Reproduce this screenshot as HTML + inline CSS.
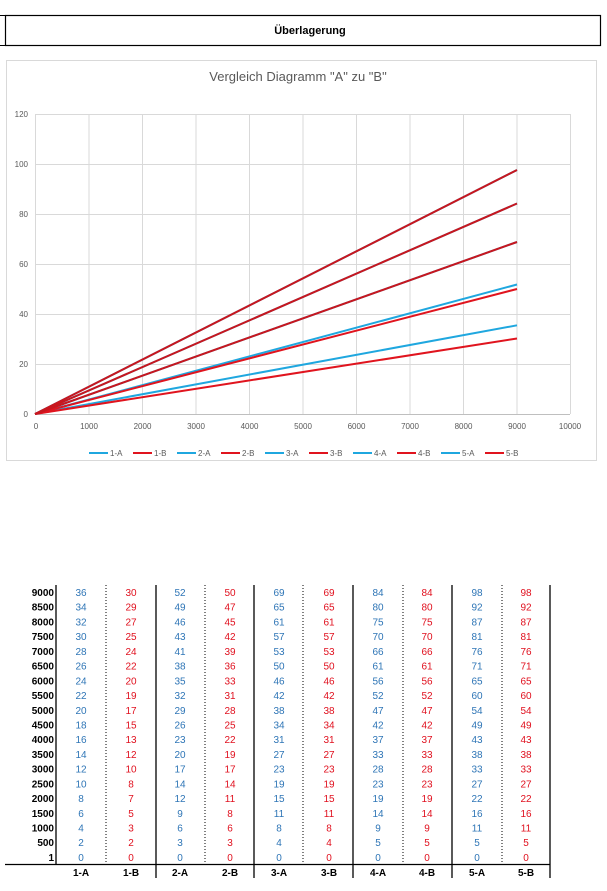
<!DOCTYPE html>
<html><head><meta charset="utf-8"><style>
html,body{margin:0;padding:0;background:#fff;width:607px;height:891px;overflow:hidden}
svg{display:block;font-family:"Liberation Sans",sans-serif}
.ax{font-size:8px;fill:#595959}
.lg{font-size:8px;fill:#595959}
.tl{font-size:10px;font-weight:bold;fill:#000}
.a{font-size:10px;fill:#2e75b6;text-anchor:middle}
.b{font-size:10px;fill:#e0101e;text-anchor:middle}
</style></head><body>
<svg width="607" height="891" viewBox="0 0 607 891">
<!-- header -->
<rect x="5.5" y="15.5" width="595" height="30" fill="none" stroke="#000" stroke-width="1.2"/>
<line x1="0" y1="15.5" x2="5" y2="15.5" stroke="#000"/>
<line x1="0" y1="45.5" x2="5" y2="45.5" stroke="#000"/>
<text x="310" y="34" font-size="11" font-weight="bold" text-anchor="middle">Überlagerung</text>
<!-- chart box -->
<rect x="6.5" y="60.5" width="590" height="400" fill="#fff" stroke="#d9d9d9"/>
<text x="298" y="81" font-size="13" fill="#595959" text-anchor="middle">Vergleich Diagramm "A" zu "B"</text>
<g stroke="#d9d9d9" stroke-width="1">
<line x1="35" y1="114.5" x2="570" y2="114.5"/><line x1="35" y1="164.5" x2="570" y2="164.5"/>
<line x1="35" y1="214.5" x2="570" y2="214.5"/><line x1="35" y1="264.5" x2="570" y2="264.5"/>
<line x1="35" y1="314.5" x2="570" y2="314.5"/><line x1="35" y1="364.5" x2="570" y2="364.5"/>
<line x1="35.5" y1="114" x2="35.5" y2="414"/><line x1="89" y1="114" x2="89" y2="414"/>
<line x1="142.5" y1="114" x2="142.5" y2="414"/><line x1="196" y1="114" x2="196" y2="414"/>
<line x1="249.5" y1="114" x2="249.5" y2="414"/><line x1="303" y1="114" x2="303" y2="414"/>
<line x1="356.5" y1="114" x2="356.5" y2="414"/><line x1="410" y1="114" x2="410" y2="414"/>
<line x1="463.5" y1="114" x2="463.5" y2="414"/><line x1="517" y1="114" x2="517" y2="414"/>
<line x1="570.5" y1="114" x2="570.5" y2="414"/>
</g>
<line x1="35" y1="414.5" x2="570" y2="414.5" stroke="#bfbfbf"/>
<g class="ax" text-anchor="end">
<text x="28" y="117">120</text><text x="28" y="167">100</text><text x="28" y="217">80</text>
<text x="28" y="267">60</text><text x="28" y="317">40</text><text x="28" y="367">20</text><text x="28" y="417">0</text>
</g>
<g class="ax" text-anchor="middle">
<text x="36" y="429">0</text><text x="89" y="429">1000</text><text x="142.5" y="429">2000</text>
<text x="196" y="429">3000</text><text x="249.5" y="429">4000</text><text x="303" y="429">5000</text>
<text x="356.5" y="429">6000</text><text x="410" y="429">7000</text><text x="463.5" y="429">8000</text>
<text x="517" y="429">9000</text><text x="570" y="429">10000</text>
</g>
<g stroke-width="2" fill="none">
<line x1="35" y1="414" x2="517" y2="325.3" stroke="#1fa7df"/>
<line x1="35" y1="414" x2="517" y2="284.5" stroke="#1fa7df"/>
<line x1="35" y1="414" x2="517" y2="242" stroke="#1fa7df"/>
<line x1="35" y1="414" x2="517" y2="203.5" stroke="#1fa7df"/>
<line x1="35" y1="414" x2="517" y2="170" stroke="#1fa7df"/>
<line x1="35" y1="414" x2="517" y2="338.5" stroke="#e0141e"/>
<line x1="35" y1="414" x2="517" y2="289" stroke="#e0141e"/>
<line x1="35" y1="414" x2="517" y2="242" stroke="#c8161e"/>
<line x1="35" y1="414" x2="517" y2="203.5" stroke="#c8161e"/>
<line x1="35" y1="414" x2="517" y2="170" stroke="#c8161e"/>
</g>
<!-- legend -->
<g stroke-width="2">
<line x1="89" y1="453" x2="108" y2="453" stroke="#1fa7df"/>
<line x1="133" y1="453" x2="152" y2="453" stroke="#e0141e"/>
<line x1="177" y1="453" x2="196" y2="453" stroke="#1fa7df"/>
<line x1="221" y1="453" x2="240" y2="453" stroke="#e0141e"/>
<line x1="265" y1="453" x2="284" y2="453" stroke="#1fa7df"/>
<line x1="309" y1="453" x2="328" y2="453" stroke="#e0141e"/>
<line x1="353" y1="453" x2="372" y2="453" stroke="#1fa7df"/>
<line x1="397" y1="453" x2="416" y2="453" stroke="#e0141e"/>
<line x1="441" y1="453" x2="460" y2="453" stroke="#1fa7df"/>
<line x1="485" y1="453" x2="504" y2="453" stroke="#e0141e"/>
</g>
<g class="lg">
<text x="110" y="456">1-A</text><text x="154" y="456">1-B</text><text x="198" y="456">2-A</text>
<text x="242" y="456">2-B</text><text x="286" y="456">3-A</text><text x="330" y="456">3-B</text>
<text x="374" y="456">4-A</text><text x="418" y="456">4-B</text><text x="462" y="456">5-A</text>
<text x="506" y="456">5-B</text>
</g>
<!-- table lines -->
<g stroke="#000" stroke-width="1.3">
<line x1="56" y1="585" x2="56" y2="864"/><line x1="156" y1="585" x2="156" y2="878"/>
<line x1="254" y1="585" x2="254" y2="878"/><line x1="353" y1="585" x2="353" y2="878"/>
<line x1="452" y1="585" x2="452" y2="878"/><line x1="550" y1="585" x2="550" y2="878"/>
<line x1="5" y1="864.5" x2="550" y2="864.5"/>
</g>
<g stroke="#000" stroke-width="1" stroke-dasharray="1,2">
<line x1="106" y1="585" x2="106" y2="864"/><line x1="205" y1="585" x2="205" y2="864"/>
<line x1="303" y1="585" x2="303" y2="864"/><line x1="403" y1="585" x2="403" y2="864"/>
<line x1="502" y1="585" x2="502" y2="864"/>
</g>
<g id="t"></g>
<g class="tl" text-anchor="middle">
<text x="81" y="876">1-A</text><text x="131" y="876">1-B</text><text x="180" y="876">2-A</text>
<text x="230" y="876">2-B</text><text x="279" y="876">3-A</text><text x="329" y="876">3-B</text>
<text x="378" y="876">4-A</text><text x="427" y="876">4-B</text><text x="477" y="876">5-A</text>
<text x="526" y="876">5-B</text>
</g>
<g font-size="10">
<text class="tl" x="54" y="596" text-anchor="end">9000</text><text class="a" x="81" y="596">36</text><text class="b" x="131" y="596">30</text><text class="a" x="180" y="596">52</text><text class="b" x="230" y="596">50</text><text class="a" x="279" y="596">69</text><text class="b" x="329" y="596">69</text><text class="a" x="378" y="596">84</text><text class="b" x="427" y="596">84</text><text class="a" x="477" y="596">98</text><text class="b" x="526" y="596">98</text>
<text class="tl" x="54" y="610.7" text-anchor="end">8500</text><text class="a" x="81" y="610.7">34</text><text class="b" x="131" y="610.7">29</text><text class="a" x="180" y="610.7">49</text><text class="b" x="230" y="610.7">47</text><text class="a" x="279" y="610.7">65</text><text class="b" x="329" y="610.7">65</text><text class="a" x="378" y="610.7">80</text><text class="b" x="427" y="610.7">80</text><text class="a" x="477" y="610.7">92</text><text class="b" x="526" y="610.7">92</text>
<text class="tl" x="54" y="625.4" text-anchor="end">8000</text><text class="a" x="81" y="625.4">32</text><text class="b" x="131" y="625.4">27</text><text class="a" x="180" y="625.4">46</text><text class="b" x="230" y="625.4">45</text><text class="a" x="279" y="625.4">61</text><text class="b" x="329" y="625.4">61</text><text class="a" x="378" y="625.4">75</text><text class="b" x="427" y="625.4">75</text><text class="a" x="477" y="625.4">87</text><text class="b" x="526" y="625.4">87</text>
<text class="tl" x="54" y="640.2" text-anchor="end">7500</text><text class="a" x="81" y="640.2">30</text><text class="b" x="131" y="640.2">25</text><text class="a" x="180" y="640.2">43</text><text class="b" x="230" y="640.2">42</text><text class="a" x="279" y="640.2">57</text><text class="b" x="329" y="640.2">57</text><text class="a" x="378" y="640.2">70</text><text class="b" x="427" y="640.2">70</text><text class="a" x="477" y="640.2">81</text><text class="b" x="526" y="640.2">81</text>
<text class="tl" x="54" y="654.9" text-anchor="end">7000</text><text class="a" x="81" y="654.9">28</text><text class="b" x="131" y="654.9">24</text><text class="a" x="180" y="654.9">41</text><text class="b" x="230" y="654.9">39</text><text class="a" x="279" y="654.9">53</text><text class="b" x="329" y="654.9">53</text><text class="a" x="378" y="654.9">66</text><text class="b" x="427" y="654.9">66</text><text class="a" x="477" y="654.9">76</text><text class="b" x="526" y="654.9">76</text>
<text class="tl" x="54" y="669.6" text-anchor="end">6500</text><text class="a" x="81" y="669.6">26</text><text class="b" x="131" y="669.6">22</text><text class="a" x="180" y="669.6">38</text><text class="b" x="230" y="669.6">36</text><text class="a" x="279" y="669.6">50</text><text class="b" x="329" y="669.6">50</text><text class="a" x="378" y="669.6">61</text><text class="b" x="427" y="669.6">61</text><text class="a" x="477" y="669.6">71</text><text class="b" x="526" y="669.6">71</text>
<text class="tl" x="54" y="684.3" text-anchor="end">6000</text><text class="a" x="81" y="684.3">24</text><text class="b" x="131" y="684.3">20</text><text class="a" x="180" y="684.3">35</text><text class="b" x="230" y="684.3">33</text><text class="a" x="279" y="684.3">46</text><text class="b" x="329" y="684.3">46</text><text class="a" x="378" y="684.3">56</text><text class="b" x="427" y="684.3">56</text><text class="a" x="477" y="684.3">65</text><text class="b" x="526" y="684.3">65</text>
<text class="tl" x="54" y="699" text-anchor="end">5500</text><text class="a" x="81" y="699">22</text><text class="b" x="131" y="699">19</text><text class="a" x="180" y="699">32</text><text class="b" x="230" y="699">31</text><text class="a" x="279" y="699">42</text><text class="b" x="329" y="699">42</text><text class="a" x="378" y="699">52</text><text class="b" x="427" y="699">52</text><text class="a" x="477" y="699">60</text><text class="b" x="526" y="699">60</text>
<text class="tl" x="54" y="713.8" text-anchor="end">5000</text><text class="a" x="81" y="713.8">20</text><text class="b" x="131" y="713.8">17</text><text class="a" x="180" y="713.8">29</text><text class="b" x="230" y="713.8">28</text><text class="a" x="279" y="713.8">38</text><text class="b" x="329" y="713.8">38</text><text class="a" x="378" y="713.8">47</text><text class="b" x="427" y="713.8">47</text><text class="a" x="477" y="713.8">54</text><text class="b" x="526" y="713.8">54</text>
<text class="tl" x="54" y="728.5" text-anchor="end">4500</text><text class="a" x="81" y="728.5">18</text><text class="b" x="131" y="728.5">15</text><text class="a" x="180" y="728.5">26</text><text class="b" x="230" y="728.5">25</text><text class="a" x="279" y="728.5">34</text><text class="b" x="329" y="728.5">34</text><text class="a" x="378" y="728.5">42</text><text class="b" x="427" y="728.5">42</text><text class="a" x="477" y="728.5">49</text><text class="b" x="526" y="728.5">49</text>
<text class="tl" x="54" y="743.2" text-anchor="end">4000</text><text class="a" x="81" y="743.2">16</text><text class="b" x="131" y="743.2">13</text><text class="a" x="180" y="743.2">23</text><text class="b" x="230" y="743.2">22</text><text class="a" x="279" y="743.2">31</text><text class="b" x="329" y="743.2">31</text><text class="a" x="378" y="743.2">37</text><text class="b" x="427" y="743.2">37</text><text class="a" x="477" y="743.2">43</text><text class="b" x="526" y="743.2">43</text>
<text class="tl" x="54" y="757.9" text-anchor="end">3500</text><text class="a" x="81" y="757.9">14</text><text class="b" x="131" y="757.9">12</text><text class="a" x="180" y="757.9">20</text><text class="b" x="230" y="757.9">19</text><text class="a" x="279" y="757.9">27</text><text class="b" x="329" y="757.9">27</text><text class="a" x="378" y="757.9">33</text><text class="b" x="427" y="757.9">33</text><text class="a" x="477" y="757.9">38</text><text class="b" x="526" y="757.9">38</text>
<text class="tl" x="54" y="772.6" text-anchor="end">3000</text><text class="a" x="81" y="772.6">12</text><text class="b" x="131" y="772.6">10</text><text class="a" x="180" y="772.6">17</text><text class="b" x="230" y="772.6">17</text><text class="a" x="279" y="772.6">23</text><text class="b" x="329" y="772.6">23</text><text class="a" x="378" y="772.6">28</text><text class="b" x="427" y="772.6">28</text><text class="a" x="477" y="772.6">33</text><text class="b" x="526" y="772.6">33</text>
<text class="tl" x="54" y="787.4" text-anchor="end">2500</text><text class="a" x="81" y="787.4">10</text><text class="b" x="131" y="787.4">8</text><text class="a" x="180" y="787.4">14</text><text class="b" x="230" y="787.4">14</text><text class="a" x="279" y="787.4">19</text><text class="b" x="329" y="787.4">19</text><text class="a" x="378" y="787.4">23</text><text class="b" x="427" y="787.4">23</text><text class="a" x="477" y="787.4">27</text><text class="b" x="526" y="787.4">27</text>
<text class="tl" x="54" y="802.1" text-anchor="end">2000</text><text class="a" x="81" y="802.1">8</text><text class="b" x="131" y="802.1">7</text><text class="a" x="180" y="802.1">12</text><text class="b" x="230" y="802.1">11</text><text class="a" x="279" y="802.1">15</text><text class="b" x="329" y="802.1">15</text><text class="a" x="378" y="802.1">19</text><text class="b" x="427" y="802.1">19</text><text class="a" x="477" y="802.1">22</text><text class="b" x="526" y="802.1">22</text>
<text class="tl" x="54" y="816.8" text-anchor="end">1500</text><text class="a" x="81" y="816.8">6</text><text class="b" x="131" y="816.8">5</text><text class="a" x="180" y="816.8">9</text><text class="b" x="230" y="816.8">8</text><text class="a" x="279" y="816.8">11</text><text class="b" x="329" y="816.8">11</text><text class="a" x="378" y="816.8">14</text><text class="b" x="427" y="816.8">14</text><text class="a" x="477" y="816.8">16</text><text class="b" x="526" y="816.8">16</text>
<text class="tl" x="54" y="831.5" text-anchor="end">1000</text><text class="a" x="81" y="831.5">4</text><text class="b" x="131" y="831.5">3</text><text class="a" x="180" y="831.5">6</text><text class="b" x="230" y="831.5">6</text><text class="a" x="279" y="831.5">8</text><text class="b" x="329" y="831.5">8</text><text class="a" x="378" y="831.5">9</text><text class="b" x="427" y="831.5">9</text><text class="a" x="477" y="831.5">11</text><text class="b" x="526" y="831.5">11</text>
<text class="tl" x="54" y="846.2" text-anchor="end">500</text><text class="a" x="81" y="846.2">2</text><text class="b" x="131" y="846.2">2</text><text class="a" x="180" y="846.2">3</text><text class="b" x="230" y="846.2">3</text><text class="a" x="279" y="846.2">4</text><text class="b" x="329" y="846.2">4</text><text class="a" x="378" y="846.2">5</text><text class="b" x="427" y="846.2">5</text><text class="a" x="477" y="846.2">5</text><text class="b" x="526" y="846.2">5</text>
<text class="tl" x="54" y="861" text-anchor="end">1</text><text class="a" x="81" y="861">0</text><text class="b" x="131" y="861">0</text><text class="a" x="180" y="861">0</text><text class="b" x="230" y="861">0</text><text class="a" x="279" y="861">0</text><text class="b" x="329" y="861">0</text><text class="a" x="378" y="861">0</text><text class="b" x="427" y="861">0</text><text class="a" x="477" y="861">0</text><text class="b" x="526" y="861">0</text>
</g>
</svg>
</body></html>
